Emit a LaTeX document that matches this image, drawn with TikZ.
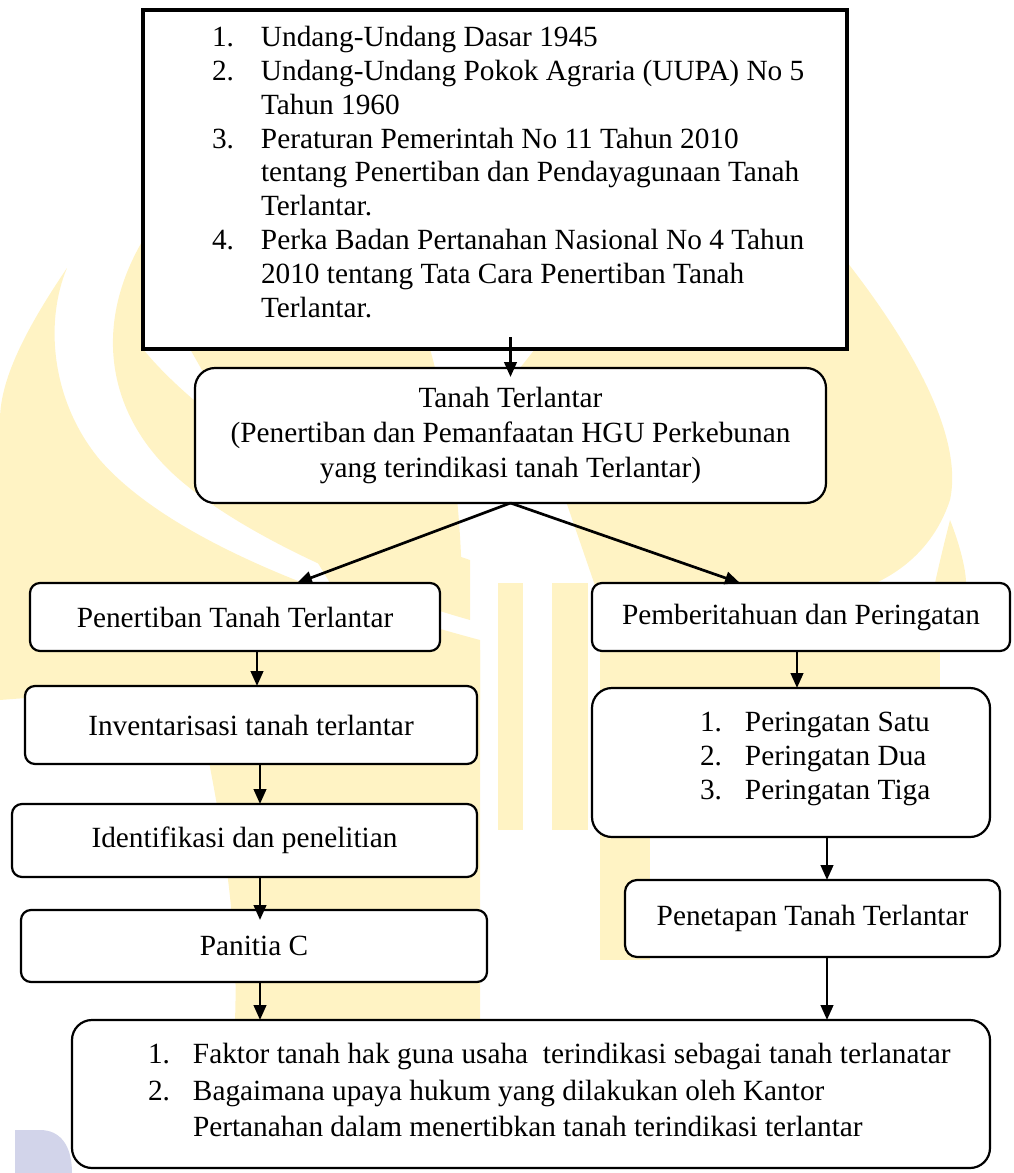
\documentclass[tikz,border=0pt]{standalone}
\usepackage{fontspec}
\setmainfont{Liberation Serif}
\usetikzlibrary{arrows.meta}
\definecolor{logo yellow}{RGB}{255,243,196}
\definecolor{logo blue}{RGB}{210,212,234}
\tikzset{
    x={1pt},
    y={-1pt},
    watermark/.style={
        fill={#1},
        draw=none,
    },
    watermark/.default={logo yellow},
    law box/.style={
        draw, fill=white,
        line width={4.2pt},
        anchor=north west,
        inner sep=0pt, outer sep=0pt,
    },
    flow box/.style={
        draw, fill=white,
        line width={2.2pt},
        rounded corners={#1},
        anchor=north west,
        align=center,
        inner sep=0pt, outer sep=0pt,
        font={\fontsize{29.3}{35}\selectfont},
    },
    flow box/.default={10pt},
    list text/.style={
        anchor=north west,
        align=left,
        inner sep=0pt, outer sep=0pt,
        font={\fontsize{29.3}{#1}\selectfont},
    },
    list text/.default={33.8},
    flow arrow/.style={
        draw,
        line width={2.7pt},
        -{Triangle[length=15pt,width=12.5pt]},
    },
}

\begin{document}
\begin{tikzpicture}
\useasboundingbox (0,0) rectangle (1013,1173);
% background
\path[watermark] (67,268) .. controls (25,330) and (0,380) .. (0,420) -- (0,700) .. controls (120,690) and (300,690) .. (480,700) -- (480,640) .. controls (330,600) and (170,540) .. (100,460) .. controls (50,400) and (45,320) .. (67,268) -- cycle;
\path[watermark] (143,240) -- (143,349) .. controls (200,420) and (350,520) .. (470,560) -- (470,620) .. controls (380,595) and (250,540) .. (180,480) .. controls (110,420) and (90,330) .. (143,240) -- cycle;
\path[watermark] (190,349) -- (430,349) .. controls (450,420) and (460,500) .. (462,583) -- (330,583) .. controls (280,500) and (230,420) .. (190,349) -- cycle;
\path[watermark] (535,349) -- (847,349) -- (847,262) .. controls (900,330) and (965,430) .. (950,500) .. controls (930,560) and (880,590) .. (820,600) -- (600,600) -- (520,368) -- cycle;
\path[watermark] (950,520) .. controls (960,545) and (966,570) .. (966,583) -- (935,583) .. controls (940,560) and (945,540) .. (950,520) -- cycle;
\path[watermark] (498,583) rectangle (523,830);
\path[watermark] (552,583) rectangle (588,830);
\path[watermark] (600,640) rectangle (940,690);
\path[watermark] (600,820) rectangle (650,960);
\path[watermark] (185,650) .. controls (210,760) and (240,900) .. (235,1020) -- (480,1020) -- (480,650) -- cycle;
\path[watermark={logo blue}] (15,1173) -- (15,1130) -- (40,1130) .. controls (60,1130) and (72,1145) .. (72,1173) -- cycle;
% boxes
\node[law box, minimum width={704}, minimum height={339}] (laws) at (143,10) {};
\node[list text] (laws list) at (212,23) {%
\begin{tabular}{@{}p{49pt}@{}l@{}}
1. & Undang-Undang Dasar 1945\\
2. & Undang-Undang Pokok Agraria (UUPA) No 5\\
   & Tahun 1960\\
3. & Peraturan Pemerintah No 11 Tahun 2010\\
   & tentang Penertiban dan Pendayagunaan Tanah\\
   & Terlantar.\\
4. & Perka Badan Pertanahan Nasional No 4 Tahun\\
   & 2010 tentang Tata Cara Penertiban Tanah\\
   & Terlantar.
\end{tabular}};
\node[flow box=20pt, minimum width={631}, minimum height={135}] (tanah) at (195,368)
    {Tanah Terlantar\\(Penertiban dan Pemanfaatan HGU Perkebunan\\yang terindikasi tanah Terlantar)};
\node[flow box, minimum width={410}, minimum height={68}] (penertiban) at (30,583) {Penertiban Tanah Terlantar};
\node[flow box, minimum width={418}, minimum height={68}] (pemberitahuan) at (592,583) {Pemberitahuan dan Peringatan};
\node[flow box, minimum width={452}, minimum height={78}] (inventaris) at (25,686) {Inventarisasi tanah terlantar};
\node[flow box, minimum width={465}, minimum height={73}] (identifikasi) at (12,804) {Identifikasi dan penelitian};
\node[flow box, minimum width={466}, minimum height={72}] (panitia) at (21,910) {Panitia C};
\node[flow box=20pt, minimum width={398}, minimum height={149}] (peringatan) at (592,688) {};
\node[list text] (peringatan list) at (700,708) {%
\begin{tabular}{@{}p{45pt}@{}l@{}}
1. & Peringatan Satu\\
2. & Peringatan Dua\\
3. & Peringatan Tiga
\end{tabular}};
\node[flow box=12pt, minimum width={375}, minimum height={77}] (penetapan) at (625,880) {Penetapan Tanah Terlantar};
\node[flow box=20pt, minimum width={918}, minimum height={148}] (masalah) at (72,1020) {};
\node[list text={36.5}] (masalah list) at (148,1038) {%
\begin{tabular}{@{}p{45pt}@{}l@{}}
1. & Faktor tanah hak guna usaha \ terindikasi sebagai tanah terlanatar\\
2. & Bagaimana upaya hukum yang dilakukan oleh Kantor\\
   & Pertanahan dalam menertibkan tanah terindikasi terlantar
\end{tabular}};
% arrows
\draw[flow arrow] ([yshift=12]laws.south -| tanah.north) -- ([yshift=-9]tanah.north);
\draw[flow arrow] (tanah.south) -- ([xshift=62]penertiban.north);
\draw[flow arrow] (tanah.south) -- ([xshift=-61]pemberitahuan.north);
\draw[flow arrow] ([xshift=22]penertiban.south) -- ([xshift=22]penertiban.south |- inventaris.north);
\draw[flow arrow] ([xshift=9]inventaris.south) -- ([xshift=9]inventaris.south |- identifikasi.north);
\draw[flow arrow] ([xshift=15.5]identifikasi.south) -- ([xshift=15.5,yshift=-10]identifikasi.south |- panitia.north);
\draw[flow arrow] ([xshift=6]panitia.south) -- ([xshift=6]panitia.south |- masalah.north);
\draw[flow arrow] ([xshift=-4]pemberitahuan.south) -- ([xshift=-4]pemberitahuan.south |- peringatan.north);
\draw[flow arrow] ([xshift=36]peringatan.south) -- ([xshift=36]peringatan.south |- penetapan.north);
\draw[flow arrow] ([xshift=14.5]penetapan.south) -- ([xshift=14.5]penetapan.south |- masalah.north);
\end{tikzpicture}
\end{document}
